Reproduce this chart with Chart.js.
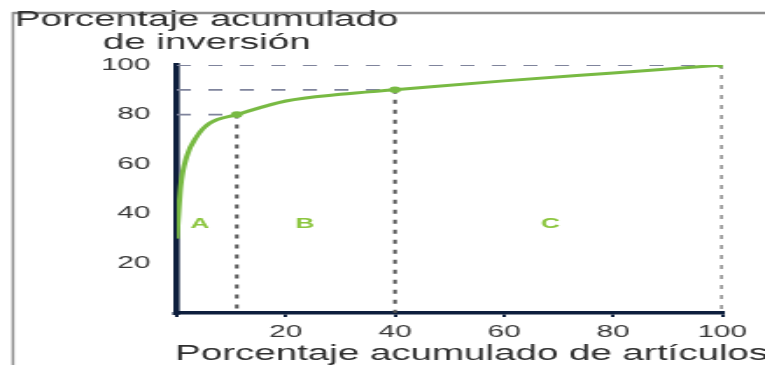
<!DOCTYPE html>
<html>
<head>
<meta charset="utf-8">
<script src="https://cdn.jsdelivr.net/npm/chart.js@4.4.1/dist/chart.umd.min.js"></script>
<style>
  html, body { margin: 0; padding: 0; background: #fff; overflow: hidden; }
  #wrap {
    position: absolute; left: 0; top: 0;
    width: 437px; height: 365px;
    transform: scaleX(1.7506); transform-origin: 0 0;
  }
</style>
</head>
<body>
<div id="wrap"><canvas id="abc" width="437" height="365"></canvas></div>
<script>
// ABC (Pareto) curve: cumulative % of items vs cumulative % of investment
const pctItems   = [0, 0.7, 1.8, 3.6, 6, 11, 20, 30, 40, 60, 80, 100];
const pctInvest  = [30, 51, 63, 71, 76.5, 80, 85.5, 88.2, 90, 93.6, 96.8, 100];

// Class boundaries (A/B, B/C, end of C)
const limitItems  = [11, 40, 100];
const limitInvest = [80, 90, 100];

// Class names and where they sit
const zoneNames   = ['A', 'B', 'C'];
const zoneCenters = [4.2, 23.5, 68.5];
const zoneLevel   = 36;

const tickValues = [0, 20, 40, 60, 80, 100];

const yTitle = ['Porcentaje acumulado', 'de inversión'];
const xTitle = 'Porcentaje acumulado de artículos';

const NAVY = '#0e1f3d';
const GREEN = '#78ba43';
const FONT = '"Liberation Sans", Arial, sans-serif';

const curve = pctItems.map((x, i) => ({ x, y: pctInvest[i] }));

const guides = [];
limitItems.forEach((lx, i) => {
  const ly = limitInvest[i];
  guides.push({
    data: [{ x: 0, y: ly }, { x: lx, y: ly }],
    borderColor: '#7f849c', borderWidth: 1.8, borderDash: [8, 10],
    pointRadius: 0, showLine: true, order: 2
  });
  guides.push({
    data: [{ x: lx, y: ly }, { x: lx, y: 0 }],
    borderColor: '#4f4f4f', borderWidth: 2, borderDash: [4, 6],
    pointRadius: 0, showLine: true, order: 2
  });
});

const knees = new Set(limitItems);

// Page frame and the axis captions
const framePlugin = {
  id: 'frame',
  beforeDraw(chart) {
    const { ctx, width, height } = chart;
    ctx.save();
    ctx.fillStyle = '#fff';
    ctx.fillRect(0, 0, width, height);
    ctx.strokeStyle = '#8d8d8d';
    ctx.lineWidth = 2.4;
    ctx.beginPath();
    ctx.moveTo(7.4, 13); ctx.lineTo(width, 13);
    ctx.stroke();
    ctx.lineWidth = 1.5;
    ctx.beginPath();
    ctx.moveTo(7.4, 12); ctx.lineTo(7.4, height);
    ctx.stroke();
    ctx.restore();
  },
  afterDraw(chart) {
    const { ctx, scales: { x } } = chart;
    ctx.save();
    ctx.font = '22px ' + FONT;
    ctx.fillStyle = '#2f2f2f';
    ctx.textAlign = 'center';
    ctx.textBaseline = 'middle';
    const w = ctx.measureText(yTitle[0]).width;
    const cx = 8.6 + w / 2;
    ctx.fillText(yTitle[0], cx, 20);
    ctx.fillText(yTitle[1], cx, 43);
    // horizontal-axis caption runs up to the right edge
    ctx.textAlign = 'left';
    ctx.fillText(xTitle, x.left - 1, 354);
    ctx.restore();
  }
};

// Class letters placed through the chart scales
const zonePlugin = {
  id: 'zones',
  afterDatasetsDraw(chart) {
    const { ctx, scales: { x, y } } = chart;
    ctx.save();
    ctx.font = 'bold 15px ' + FONT;
    ctx.fillStyle = '#8cc63f';
    ctx.textAlign = 'center';
    ctx.textBaseline = 'middle';
    zoneNames.forEach((n, i) => {
      ctx.fillText(n, x.getPixelForValue(zoneCenters[i]), y.getPixelForValue(zoneLevel));
    });
    ctx.restore();
  }
};

new Chart(document.getElementById('abc'), {
  type: 'scatter',
  data: {
    datasets: [
      {
        data: curve,
        borderColor: GREEN, backgroundColor: GREEN,
        borderWidth: 3, showLine: true,
        cubicInterpolationMode: 'monotone',
        pointRadius: ctx => knees.has(ctx.raw && ctx.raw.x) ? 1.8 : 0,
        order: 0
      },
      ...guides
    ]
  },
  options: {
    responsive: false,
    animation: false,
    layout: { padding: { left: 0, right: 24.4, top: 65, bottom: 0 } },
    plugins: { legend: { display: false }, tooltip: { enabled: false } },
    scales: {
      x: {
        type: 'linear', min: 0, max: 100, z: 1,
        afterBuildTicks: s => { s.ticks = tickValues.map(v => ({ value: v })); },
        afterFit: s => { s.height = 52; },
        border: { color: NAVY, width: 3.5 },
        grid: {
          drawOnChartArea: false, drawTicks: true, tickLength: 4,
          color: NAVY, lineWidth: 2
        },
        ticks: {
          padding: 5, color: '#383838',
          font: { family: FONT, size: 17 },
          callback: v => v === 0 ? '' : String(v)
        },
        title: { display: false }
      },
      y: {
        type: 'linear', min: 0, max: 100, z: 1,
        afterBuildTicks: s => { s.ticks = tickValues.map(v => ({ value: v })); },
        afterFit: s => { s.width = 101; },
        border: { color: NAVY, width: 3.6 },
        grid: {
          drawOnChartArea: false, drawTicks: true, tickLength: 2.5,
          color: c => c.tick && c.tick.value === 0 ? NAVY : 'rgba(0,0,0,0)',
          lineWidth: 3
        },
        ticks: {
          padding: 12.5, color: '#383838',
          font: { family: FONT, size: 17 },
          callback: v => v === 0 ? '' : String(v)
        }
      }
    }
  },
  plugins: [framePlugin, zonePlugin]
});
</script>
</body>
</html>
